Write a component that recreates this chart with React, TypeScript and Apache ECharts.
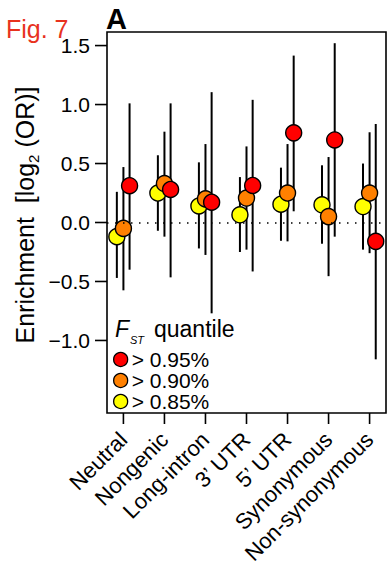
import React, { useEffect, useRef } from "react";
import * as echarts from "echarts";

const categories = ["Neutral", "Nongenic", "Long-intron", "3\u2019 UTR", "5\u2019 UTR", "Synonymous", "Non-synonymous"];
const categoryPositions = [0, 1, 2, 3, 4, 5, 6];
const yTicks = [-1.0, -0.5, 0.0, 0.5, 1.0, 1.5];

const q85Value = [-0.12, 0.25, 0.14, 0.065, 0.155, 0.15, 0.135];
const q85Low = [-0.47, -0.07, -0.22, -0.25, -0.155, -0.18, -0.23];
const q85High = [0.26, 0.57, 0.51, 0.385, 0.465, 0.485, 0.5];

const q90Value = [-0.05, 0.33, 0.2, 0.207, 0.25, 0.05, 0.25];
const q90Low = [-0.575, -0.12, -0.275, -0.23, -0.16, -0.455, -0.26];
const q90High = [0.47, 0.77, 0.665, 0.645, 0.665, 0.555, 0.765];

const q95Value = [0.312, 0.28, 0.172, 0.314, 0.76, 0.7, -0.16];
const q95Low = [-0.4, -0.465, -0.77, -0.415, 0.095, -0.12, -1.16];
const q95High = [1.01, 1.01, 1.105, 1.04, 1.415, 1.52, 0.835];

const seriesNames = ["> 0.85%", "> 0.90%", "> 0.95%"];
const seriesColors = ["#ffff00", "#ff8000", "#ff0000"];
const seriesOffsets = [-0.16, 0, 0.15];

const X_MIN = -0.4;
const X_MAX = 6.4;
const Y_MIN = -1.615;
const Y_MAX = 1.615;

const FONT = '"Liberation Sans", Arial, Helvetica, sans-serif';

export default function App() {
  const ref = useRef<HTMLDivElement>(null);
  useEffect(() => {
    document.body.style.margin = "0";
    const chart = echarts.init(ref.current!, null, { renderer: "svg" });
    const values = [q85Value, q90Value, q95Value];
    const lows = [q85Low, q90Low, q95Low];
    const highs = [q85High, q90High, q95High];

    const errSeries = values.map((vals, s) => ({
      type: "custom",
      name: "err" + s,
      z: 1,
      silent: true,
      data: vals.map((_, i) => [i + seriesOffsets[s], lows[s][i], highs[s][i]]),
      encode: { x: 0, y: [1, 2] },
      renderItem: (params: any, api: any) => {
        const x = api.value(0);
        const p1 = api.coord([x, api.value(1)]);
        const p2 = api.coord([x, api.value(2)]);
        return {
          type: "line",
          shape: { x1: p1[0], y1: p1[1], x2: p2[0], y2: p2[1] },
          style: { stroke: "#000", lineWidth: 2 },
        };
      },
      ...(s === 0
        ? {
            markLine: {
              silent: true,
              symbol: "none",
              label: { show: false },
              lineStyle: { color: "#000", width: 1.5, type: [1.5, 6.5] },
              data: [{ yAxis: 0 }],
            },
          }
        : {}),
    }));

    // axis tick marks drawn from the axis scales (outside the plot box)
    const xTickSeries = {
      type: "custom",
      name: "xticks",
      silent: true,
      clip: false,
      z: 5,
      data: categoryPositions.map((p) => [p, Y_MIN]),
      renderItem: (params: any, api: any) => {
        const p = api.coord([api.value(0), api.value(1)]);
        return {
          type: "line",
          shape: { x1: p[0], y1: p[1], x2: p[0], y2: p[1] + 11 },
          style: { stroke: "#000", lineWidth: 1.6 },
        };
      },
    };
    const yTickSeries = {
      type: "custom",
      name: "yticks",
      silent: true,
      clip: false,
      z: 5,
      data: yTicks.map((v) => [X_MIN, v]),
      renderItem: (params: any, api: any) => {
        const p = api.coord([api.value(0), api.value(1)]);
        return {
          type: "line",
          shape: { x1: p[0] - 12, y1: p[1], x2: p[0], y2: p[1] },
          style: { stroke: "#000", lineWidth: 1.6 },
        };
      },
    };

    const pointSeries = values.map((vals, s) => ({
      type: "scatter",
      name: seriesNames[s],
      z: 2 + s,
      symbol: "circle",
      symbolSize: 16,
      itemStyle: { color: seriesColors[s], borderColor: "#000", borderWidth: 1.4, opacity: 1 },
      data: vals.map((v, i) => [i + seriesOffsets[s], v]),
    }));

    chart.setOption({
      animation: false,
      grid: {
        left: 107,
        top: 32,
        width: 279,
        height: 381,
        show: true,
        borderColor: "#000",
        borderWidth: 1.6,
        backgroundColor: "transparent",
      },
      xAxis: {
        type: "value",
        min: X_MIN,
        max: X_MAX,
        splitLine: { show: false },
        axisLine: { show: false },
        axisTick: { show: false },
        axisLabel: {
          customValues: categoryPositions,
          rotate: 45,
          margin: 23,
          fontSize: 22,
          color: "#000",
          fontFamily: FONT,
          formatter: (v: number) => categories[Math.round(v)],
        },
      },
      yAxis: {
        type: "value",
        min: Y_MIN,
        max: Y_MAX,
        splitLine: { show: false },
        axisLine: { show: false },
        axisTick: { show: false },
        axisLabel: {
          customValues: yTicks,
          margin: 17,
          fontSize: 21,
          color: "#000",
          fontFamily: FONT,
          formatter: (v: number) => (v < 0 ? "\u2212" : "") + Math.abs(v).toFixed(1),
        },
      },
      legend: {
        orient: "vertical",
        left: 113,
        top: 349,
        icon: "circle",
        itemWidth: 14,
        itemHeight: 14,
        itemGap: 0,
        padding: 0,
        data: ["> 0.95%", "> 0.90%", "> 0.85%"],
        itemStyle: { borderColor: "#000", borderWidth: 1.3 },
        textStyle: { fontSize: 21, color: "#000", fontFamily: FONT, lineHeight: 20, padding: [0, 0, 0, -1] },
      },
      graphic: [
        {
          type: "text",
          left: 6,
          top: 16,
          style: { text: "Fig. 7", fill: "#e8321e", font: `25px ${FONT}` },
        },
        {
          type: "text",
          left: 106,
          top: 4,
          style: { text: "A", fill: "#000", font: `bold 29px ${FONT}` },
        },
        {
          type: "text",
          x: 23,
          y: 215,
          rotation: Math.PI / 2,
          style: {
            text: "{a|Enrichment  [log}{s|2}{a| (OR)]}",
            align: "center",
            verticalAlign: "middle",
            fill: "#000",
            rich: {
              a: { fontSize: 25, fontFamily: FONT, fill: "#000", verticalAlign: "bottom", lineHeight: 28 },
              s: { fontSize: 15, fontFamily: FONT, fill: "#000", verticalAlign: "bottom", lineHeight: 28, padding: [0, 0, -4, 0] },
            },
          },
        },
        {
          type: "text",
          x: 115,
          y: 329,
          style: { text: "F", fill: "#000", font: `italic 23px ${FONT}`, verticalAlign: "middle" },
        },
        {
          type: "text",
          x: 130,
          y: 340,
          style: { text: "ST", fill: "#000", font: `italic 11px ${FONT}`, verticalAlign: "middle" },
        },
        {
          type: "text",
          x: 154,
          y: 329,
          style: { text: "quantile", fill: "#000", font: `23px ${FONT}`, verticalAlign: "middle" },
        },
      ],
      series: [...errSeries, ...pointSeries, xTickSeries, yTickSeries],
    });
    return () => chart.dispose();
  }, []);
  return <div ref={ref} style={{ width: 388, height: 576 }} />;
}
